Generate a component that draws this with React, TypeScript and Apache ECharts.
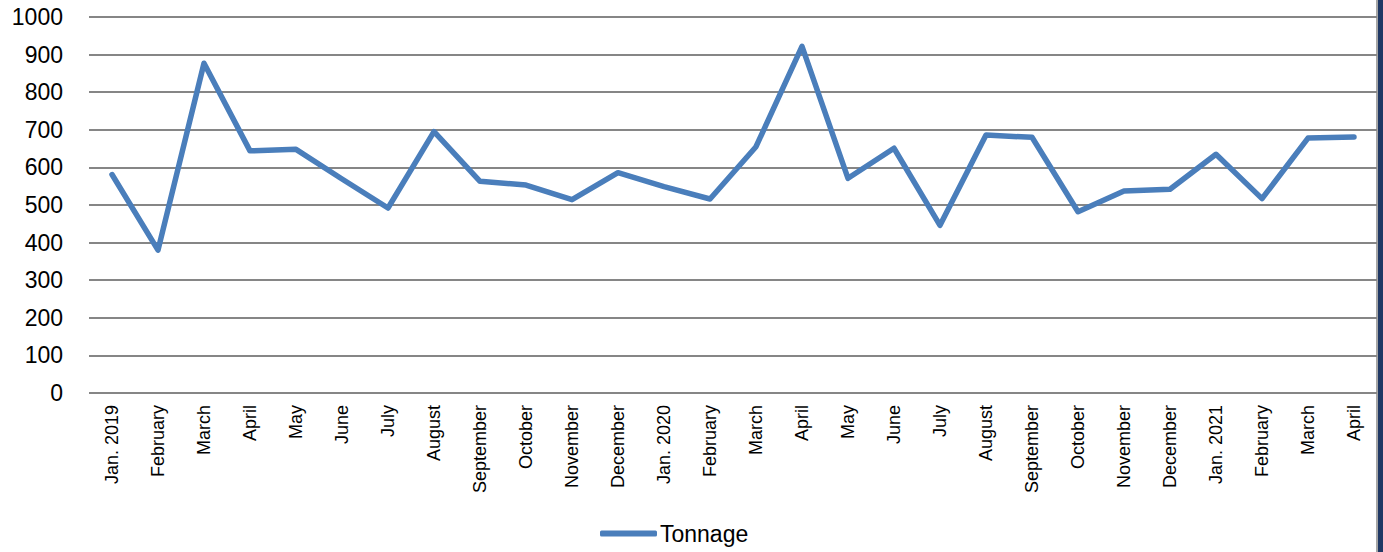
import React, { useEffect, useRef } from "react";
import * as echarts from "echarts";

const categories: string[] = [
  "Jan. 2019", "February", "March", "April", "May", "June", "July", "August",
  "September", "October", "November", "December", "Jan. 2020", "February",
  "March", "April", "May", "June", "July", "August", "September", "October",
  "November", "December", "Jan. 2021", "February", "March", "April",
];

const tonnage: number[] = [
  581, 380, 877, 644, 648, 569, 492, 695, 563, 553, 514, 586, 549, 516,
  655, 922, 571, 651, 446, 686, 680, 482, 537, 542, 635, 517, 678, 681,
];

const yTicks = { min: 0, max: 1000, interval: 100 };

export default function App() {
  const ref = useRef<HTMLDivElement>(null);
  useEffect(() => {
    if (!ref.current) return;
    const chart = echarts.init(ref.current, undefined, { renderer: "svg" });
    const font = "'Liberation Sans', Arial, sans-serif";
    chart.setOption({
      animation: false,
      backgroundColor: "#ffffff",
      textStyle: { fontFamily: font },
      grid: { left: 89, right: 6, top: 17, bottom: 159, containLabel: false },
      legend: {
        left: 595,
        top: 517,
        icon: "roundRect",
        itemWidth: 57,
        itemHeight: 6,
        textStyle: { fontSize: 23, color: "#000", fontFamily: font, padding: [0, 0, 0, -2] },
        data: ["Tonnage"],
      },
      xAxis: {
        type: "category",
        data: categories,
        boundaryGap: true,
        axisLine: { show: false },
        axisTick: { show: false },
        axisLabel: {
          interval: 0,
          rotate: 90,
          margin: 12,
          fontSize: 18,
          color: "#000",
          fontFamily: font,
        },
      },
      yAxis: {
        type: "value",
        min: yTicks.min,
        max: yTicks.max,
        interval: yTicks.interval,
        axisLine: { show: false },
        axisTick: { show: false },
        axisLabel: {
          fontSize: 23,
          color: "#000",
          margin: 26,
          fontFamily: font,
          formatter: (v: number) => String(v),
        },
        splitLine: { lineStyle: { color: "#868686", width: 2 } },
      },
      series: [
        {
          name: "Tonnage",
          type: "line",
          data: tonnage,
          symbol: "none",
          lineStyle: { color: "#4A7EBB", width: 5.5, join: "round", cap: "round" },
          itemStyle: { color: "#4A7EBB" },
        },
      ],
      graphic: [
        { type: "rect", left: 1376, top: 0, shape: { width: 2, height: 552 }, style: { fill: "#A6A6A6" } },
        { type: "rect", left: 1378, top: 0, shape: { width: 5, height: 552 }, style: { fill: "#1F3864" } },
      ],
    });
    return () => chart.dispose();
  }, []);
  return (
    <div
      ref={ref}
      style={{ position: "absolute", left: 0, top: 0, width: 1383, height: 552 }}
    />
  );
}
